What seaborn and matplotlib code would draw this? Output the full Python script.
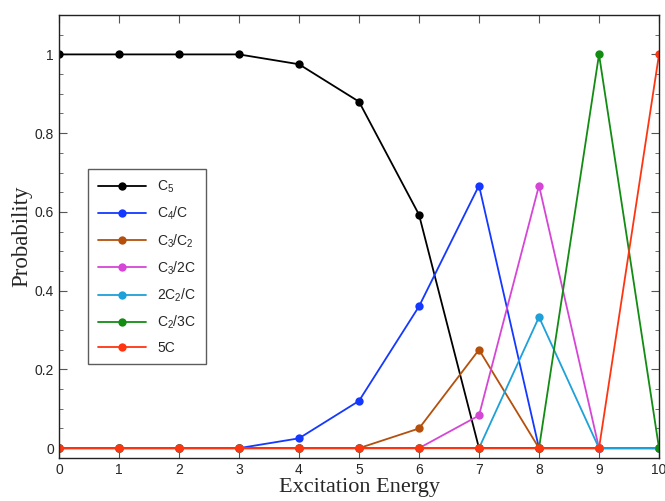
import matplotlib

matplotlib.use("Agg")

import matplotlib.pyplot as plt
import pandas as pd
import seaborn as sns
from matplotlib.ticker import MultipleLocator

energy = [0, 1, 2, 3, 4, 5, 6, 7, 8, 9, 10]

c5 = [1, 1, 1, 1, 0.975, 0.88, 0.593, 0, 0, 0, 0]
c4_c = [0, 0, 0, 0, 0.025, 0.12, 0.36, 0.667, 0, 0, 0]
c3_c2 = [0, 0, 0, 0, 0, 0, 0.05, 0.25, 0, 0, 0]
c3_2c = [0, 0, 0, 0, 0, 0, 0, 0.083, 0.667, 0, 0]
two_c2_c = [0, 0, 0, 0, 0, 0, 0, 0, 0.333, 0, 0]
c2_3c = [0, 0, 0, 0, 0, 0, 0, 0, 0, 1, 0]
five_c = [0, 0, 0, 0, 0, 0, 0, 0, 0, 0, 1]

labels = [r"C$_5$", r"C$_4$/C", r"C$_3$/C$_2$", r"C$_3$/2C",
          r"2C$_2$/C", r"C$_2$/3C", "5C"]
colors = ["#000000", "#1438ff", "#b4500c", "#d646d6",
          "#1ea0d8", "#128c12", "#ff3512"]
series = [c5, c4_c, c3_c2, c3_2c, two_c2_c, c2_3c, five_c]

sns.set_style("ticks")
plt.rcParams["font.family"] = ["Liberation Sans", "DejaVu Sans"]
plt.rcParams["mathtext.fontset"] = "custom"
plt.rcParams["mathtext.rm"] = "Liberation Sans"
plt.rcParams["mathtext.it"] = "Liberation Sans"

fig = plt.figure(figsize=(6.65, 5.01), dpi=100)
ax = fig.add_axes([0.0887, 0.0858, 0.9023, 0.8842])

# red series drawn last so the zero baseline shows red
lines = {}
for i in range(7):
    df = pd.DataFrame({"x": energy, "y": series[i]})
    sns.lineplot(data=df, x="x", y="y", ax=ax, color=colors[i], marker="o",
                 markersize=6, markeredgewidth=0, linewidth=1.3,
                 label=labels[i], legend=False)
    lines[i] = ax.lines[-1]

ax.set_xlim(0, 10)
ax.set_ylim(-0.025, 1.1)
ax.xaxis.set_major_locator(MultipleLocator(1))
ax.yaxis.set_minor_locator(MultipleLocator(0.05))
ax.set_yticks([0, 0.2, 0.4, 0.6, 0.8, 1])
ax.set_yticklabels(["0", "0.2", "0.4", "0.6", "0.8", "1"])
ax.tick_params(which="both", direction="in", top=True, right=True,
               labelsize=10, color="#555555")
ax.tick_params(which="major", length=6)
ax.tick_params(which="minor", length=3)
for sp in ax.spines.values():
    sp.set_linewidth(1.0)
    sp.set_color("#222222")

ax.set_xlabel("Excitation Energy", family=["Liberation Serif"], fontsize=16,
              labelpad=1)
ax.set_ylabel("Probability", family=["Liberation Serif"], fontsize=16.5,
              labelpad=2)

leg = ax.legend([lines[i] for i in range(7)], labels, loc="upper left",
                bbox_to_anchor=(0.048, 0.652), borderaxespad=0, fontsize=10,
                frameon=True, fancybox=False, edgecolor="#333333",
                handlelength=3.5, labelspacing=0.7, borderpad=0.7)
leg.get_frame().set_linewidth(1.0)

fig.savefig("out.png", dpi=100)
